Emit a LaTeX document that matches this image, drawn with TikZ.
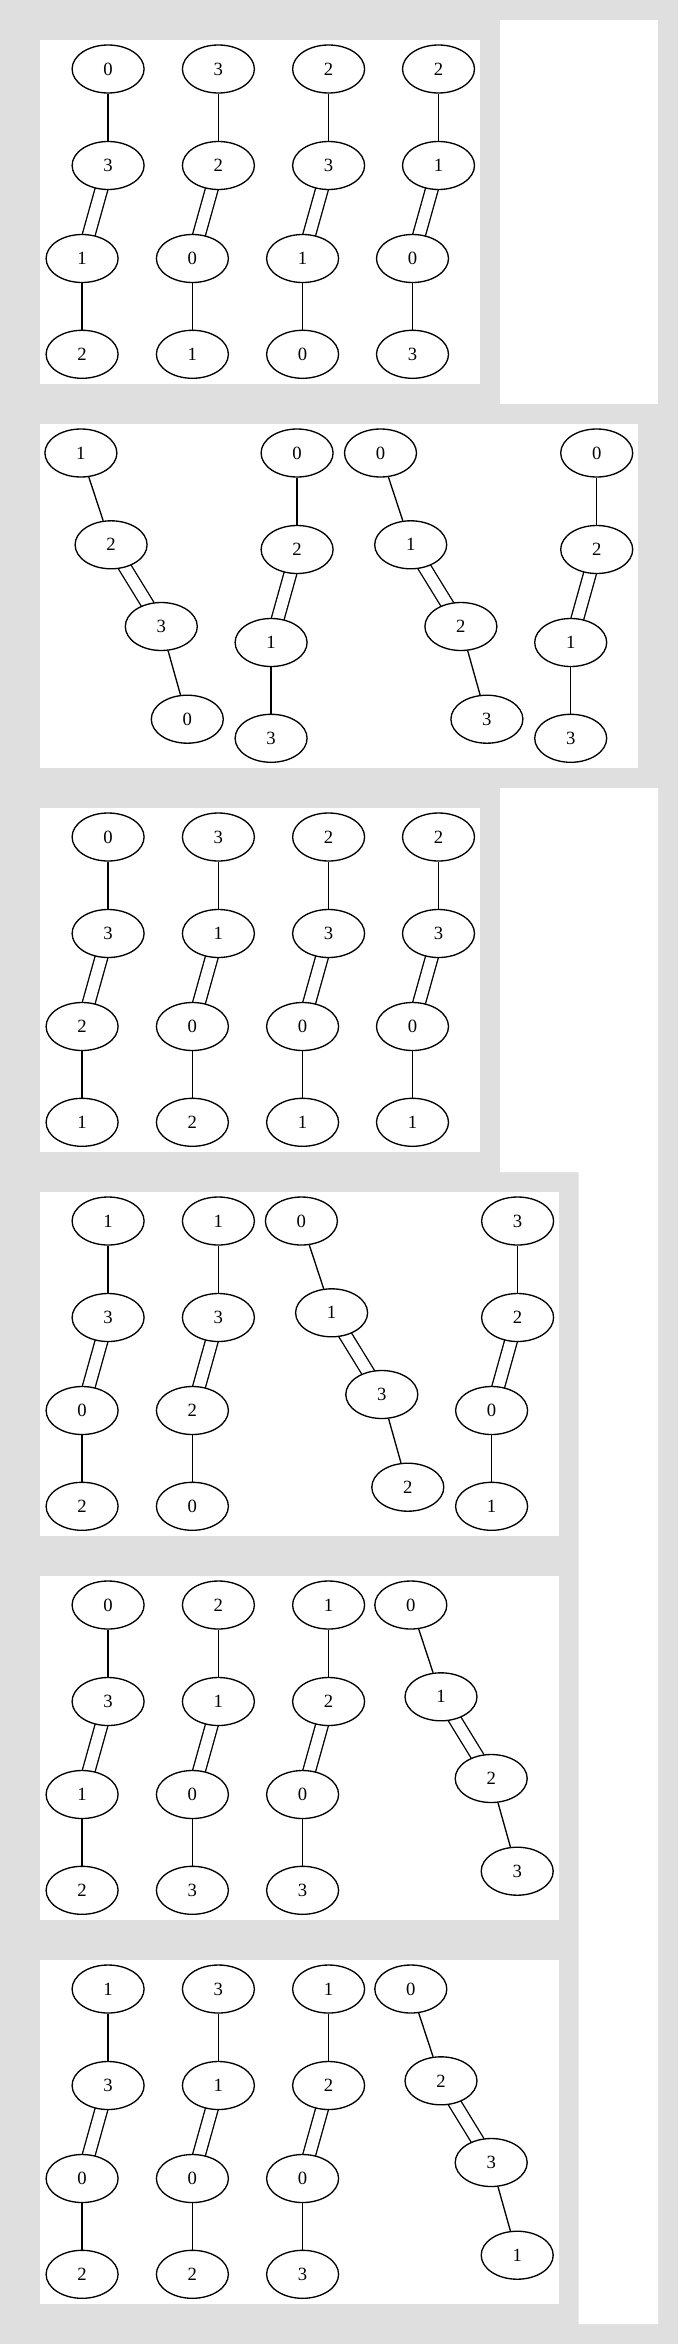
\documentclass[tikz,border=0pt]{standalone}
\usepackage{fontspec}
\setmainfont{Liberation Serif}
\usetikzlibrary{shapes.geometric}
\pgfdeclarelayer{back}
\pgfdeclarelayer{edges}
\pgfsetlayers{back,edges,main}
\definecolor{panelgray}{RGB}{223,223,223}
\tikzset{
  vtx/.style={draw, ellipse, fill=white, line width=1pt, minimum width=54pt, minimum height=36pt, inner sep=0pt, font=\fontsize{14}{17}\selectfont},
  bond/.style={line width=1pt},
  dbond/.style={line width=1pt, double, double distance=8.5pt, shorten <=-2pt, shorten >=-2pt}
}
\begin{document}
\begin{tikzpicture}[x=0.75pt,y=-0.75pt]
\useasboundingbox (0,0) rectangle (678,2344);
\begin{pgfonlayer}{back}
\fill[panelgray] (0,0) rectangle (678,2344);
\fill[white] (500,20) rectangle (658,404);
\fill[white] (500,788) -- (658,788) -- (658,2324) -- (578.6,2324) -- (578.6,1172) -- (500,1172) -- cycle;
\foreach \py/\px in {40/480,424/638,808/480,1192/559,1576/559,1960/559}
  \fill[white] (40,\py) rectangle (\px,\py+344);
\end{pgfonlayer}
\foreach \gx/\gy/\la/\lb/\lc/\ld/\g in {
  108.1/40/0/3/1/2/pa, 218.4/40/3/2/0/1/pb, 328.6/40/2/3/1/0/pc, 438.5/40/2/1/0/3/pd,
  297.1/424/0/2/1/3/qb, 596.7/424/0/2/1/3/qd,
  108.1/808/0/3/2/1/ra, 218.4/808/3/1/0/2/rb, 328.6/808/2/3/0/1/rc, 438.5/808/2/3/0/1/rd,
  108.1/1192/1/3/0/2/sa, 218.4/1192/1/3/2/0/sb, 517.6/1192/3/2/0/1/sd,
  108.1/1576/0/3/1/2/ta, 218.4/1576/2/1/0/3/tb, 328.6/1576/1/2/0/3/tc,
  108.1/1960/1/3/0/2/ua, 218.4/1960/3/1/0/2/ub, 328.6/1960/1/2/0/3/uc} {
  \node[vtx] (\g1) at (\gx,\gy+29) {\la};
  \node[vtx] (\g2) at (\gx,\gy+125.5) {\lb};
  \node[vtx] (\g3) at (\gx-26,\gy+218.5) {\lc};
  \node[vtx] (\g4) at (\gx-26,\gy+314.3) {\ld};
  \begin{pgfonlayer}{edges}
  \draw[bond] (\g1) -- (\g2);
  \draw[dbond] (\g2) -- (\g3);
  \draw[bond] (\g3) -- (\g4);
  \end{pgfonlayer}
}
\foreach \gx/\gy/\la/\lb/\lc/\ld/\g in {
  80.9/424/1/2/3/0/qa, 380.5/424/0/1/2/3/qc,
  301.4/1192/0/1/3/2/sc,
  410.8/1576/0/1/2/3/td,
  410.8/1960/0/2/3/1/ud} {
  \node[vtx] (\g1) at (\gx,\gy+29) {\la};
  \node[vtx] (\g2) at (\gx+30.2,\gy+120.8) {\lb};
  \node[vtx] (\g3) at (\gx+80.4,\gy+202.5) {\lc};
  \node[vtx] (\g4) at (\gx+106.4,\gy+295.2) {\ld};
  \begin{pgfonlayer}{edges}
  \draw[bond] (\g1) -- (\g2);
  \draw[dbond] (\g2) -- (\g3);
  \draw[bond] (\g3) -- (\g4);
  \end{pgfonlayer}
}
\end{tikzpicture}
\end{document}
